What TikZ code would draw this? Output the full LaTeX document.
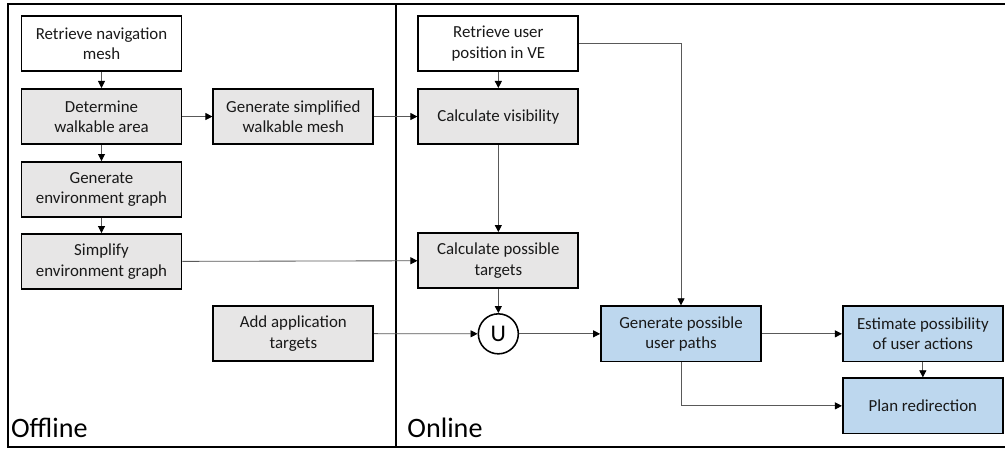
\documentclass[tikz,border=0pt]{standalone}
\usepackage{fontspec}
\setmainfont{Carlito}
\usetikzlibrary{shapes,arrows.meta,positioning}
\definecolor{stepgray}{RGB}{231,230,230}
\definecolor{stepblue}{RGB}{189,215,238}
\definecolor{linegray}{RGB}{89,89,89}

\begin{document}
\begin{tikzpicture}[
    node distance=0.4cm,
    block/.style={rectangle, draw, line width=1.3pt, fill=stepgray, text=black!90, minimum width=4cm, minimum height=1.38cm, align=center, inner sep=2pt, font=\fontsize{12}{14.5}\selectfont},
    plain/.style={block, fill=white},
    online/.style={block, fill=stepblue},
    merge/.style={circle, draw, line width=1.1pt, fill=white, minimum size=1cm, inner sep=0pt, font=\fontsize{17}{17}\selectfont},
    link/.style={-{Triangle[width=5pt,length=5pt,color=black]}, line width=0.6pt, draw=linegray},
    panel/.style={anchor=west, inner sep=0pt, font=\fontsize{20}{24}\selectfont}
]
\useasboundingbox (0,0) rectangle (25.125,-11.3);

% frame
\draw[line width=1.2pt] (25.2,-0.1) -- (0.2,-0.1) -- (0.2,-11.175) -- (25.2,-11.175);
\draw[line width=1.1pt] (9.9,-0.1) -- (9.9,-11.175);
\node[panel] (offline) at (0.27,-10.7) {Offline};
\node[panel] (online) at (10.18,-10.7) {Online};

% offline part
\node[plain] (nav) at (2.5375,-1.0875) {Retrieve navigation\\mesh};
\node[block, below=of nav] (walkable) {Determine\\walkable area};
\node[block, below=of walkable] (envgraph) {Generate\\environment graph};
\node[block, below=0.375cm of envgraph] (simplgraph) {Simplify\\environment graph};
\node[block, right=0.75cm of walkable] (simplmesh) {Generate simplified\\walkable mesh};
\node[block, below=4cm of simplmesh] (apptargets) {Add application\\targets};

% online part
\node[plain, right=5.875cm of nav] (userpos) {Retrieve user\\position in VE};
\node[block, below=of userpos] (visibility) {Calculate visibility};
\node[block, below=2.175cm of visibility] (targets) {Calculate possible\\targets};
\node[merge, below=0.6cm of targets] (union) {U};
\node[online, right=2.025cm of union] (paths) {Generate possible\\user paths};
\node[online, right=2cm of paths] (estimate) {Estimate possibility\\of user actions};
\node[online, below=0.375cm of estimate] (plan) {Plan redirection};

\draw[link] (nav) -- (walkable);
\draw[link] (walkable) -- (envgraph);
\draw[link] (envgraph) -- (simplgraph);
\draw[link] (walkable) -- (simplmesh);
\draw[link] (simplmesh) -- (visibility);
\draw[link] (simplgraph) -- (targets);
\draw[link] (userpos) -- (visibility);
\draw[link] (visibility) -- (targets);
\draw[link] (targets) -- (union);
\draw[link] (apptargets) -- (union);
\draw[link] (union) -- (paths);
\draw[link] (userpos) -| (paths);
\draw[link] (paths) -- (estimate);
\draw[link] (estimate) -- (plan);
\draw[link] (paths) |- (plan);

\end{tikzpicture}
\end{document}
